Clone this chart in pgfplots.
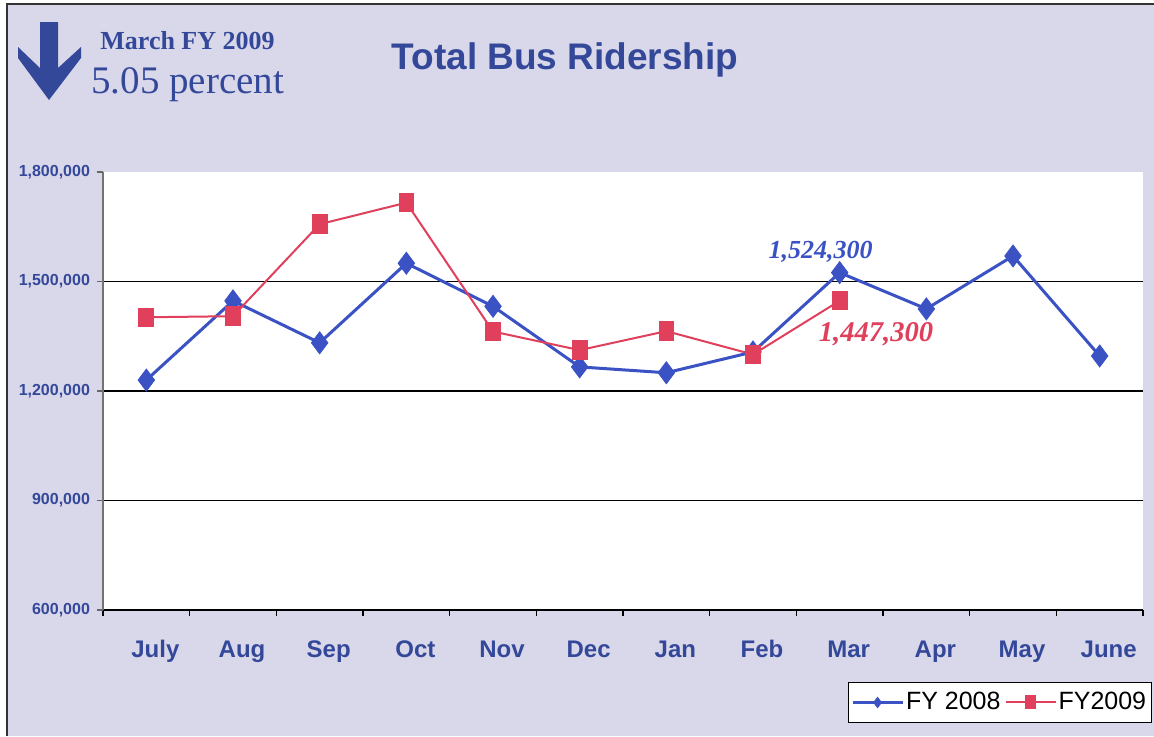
\documentclass[border=0pt]{standalone}
\usepackage{pgfplots}
\pgfplotsset{compat=1.18}
\usepackage{fontspec}
\setmainfont{Liberation Serif}
\newfontfamily\arialf{Liberation Sans}
\definecolor{bgl}{HTML}{D9D7EA}
\definecolor{navy}{HTML}{34489A}
\definecolor{lblue}{HTML}{3A52C4}
\definecolor{lred}{HTML}{E0405C}
\begin{document}
\begin{tikzpicture}
\useasboundingbox (0,0) rectangle (577pt,368pt);
\fill[white] (0,0) rectangle (577pt,368pt);
\fill[bgl] (3.5pt,0) rectangle (577pt,366pt);
\draw[black!80, line width=0.8pt] (3.5pt,0) -- (3.5pt,366pt) -- (577pt,366pt);
% arrow
\fill[navy] (20pt,357pt) -- (29pt,357pt) -- (29pt,334pt) -- (40.5pt,344.5pt) -- (40.5pt,339pt) -- (24.5pt,318pt) -- (9pt,339pt) -- (9pt,344.5pt) -- (20pt,334pt) -- cycle;
\node[anchor=west, text=navy, font=\fontsize{13}{15}\selectfont\bfseries, inner sep=0] at (50pt,347.5pt) {March FY 2009};
\node[anchor=west, text=navy, font=\fontsize{19.5}{22}\selectfont, inner sep=0] at (45.5pt,325.5pt) {5.05 percent};
\node[text=navy, font=\fontsize{18.5}{21}\selectfont\arialf\bfseries, inner sep=0] at (282.5pt,338pt) {Total Bus Ridership};
\begin{axis}[
  at={(51.5pt,63pt)}, anchor=south west,
  scale only axis, width=520pt, height=219pt,
  xmin=-0.5, xmax=11.5, ymin=600000, ymax=1800000,
  axis x line*=bottom, axis y line*=left,
  x axis line style={black, line width=0.8pt, -},
  y axis line style={black!55, line width=0.8pt, -},
  axis background/.style={fill=white},
  xtick={0,...,11},
  xticklabels={July,Aug,Sep,Oct,Nov,Dec,Jan,Feb,Mar,Apr,May,June},
  major x tick style={draw=none},
  minor xtick={-0.5,0.5,...,11.5},
  minor x tick style={black, line width=0.6pt},
  minor tick length=3pt,
  tick align=outside,
  xticklabel style={font=\fontsize{12}{14}\selectfont\arialf\bfseries, text=navy, text height=9pt, text depth=3pt, yshift=-8pt, xshift=4.5pt},
  ytick={600000,900000,1200000,1500000},
  yticklabels={{600,000},{900,000},{1,200,000},{1,500,000}},
  extra y ticks={1800000},
  extra y tick labels={1{,}800{,}000},
  extra y tick style={grid=none},
  ymajorgrids,
  grid style={black, line width=0.8pt},
  major y tick style={black!60, line width=0.6pt},
  major tick length=3pt,
  scaled y ticks=false,
  yticklabel style={font=\fontsize{8}{10}\selectfont\arialf\bfseries, text=navy},
  legend style={at={(0.716,-0.164)}, anchor=north west, draw=black, fill=white,
    font=\fontsize{12.5}{15}\selectfont\arialf, legend columns=2,
    inner xsep=1.5pt, inner ysep=3pt, nodes={inner xsep=1pt},
    /tikz/every even column/.append style={column sep=1pt}},
  legend cell align=left,
  legend image code/.code={\draw[mark size=2.6pt, mark repeat=2, mark phase=2] plot coordinates {(0pt,0pt) (12.5pt,0pt) (25pt,0pt)};},
  clip=false,
]
\addplot[lblue, line width=1.5pt, mark=diamond*, mark size=5.5pt, mark options={fill=lblue, draw=lblue, line width=0.4pt}]
coordinates {(0,1230000) (1,1447000) (2,1332000) (3,1550000) (4,1432000) (5,1266000) (6,1250000) (7,1307000) (8,1524300) (9,1425000) (10,1570000) (11,1296000)};
\addlegendentry{FY 2008}
\addplot[lred, line width=1pt, mark=square*, mark size=3.8pt, mark options={fill=lred, draw=lred, xscale=0.9, yscale=1.15}]
coordinates {(0,1402000) (1,1405000) (2,1657000) (3,1716000) (4,1363000) (5,1312000) (6,1364000) (7,1300000) (8,1447300)};
\addlegendentry{FY2009}
\node[text=lblue, font=\fontsize{13}{15}\selectfont\bfseries\itshape] at (axis cs:7.78,1580000) {1,524,300};
\node[text=lred, font=\fontsize{14.3}{16}\selectfont\bfseries\itshape] at (axis cs:8.42,1357000) {1,447,300};
\end{axis}
\end{tikzpicture}
\end{document}
